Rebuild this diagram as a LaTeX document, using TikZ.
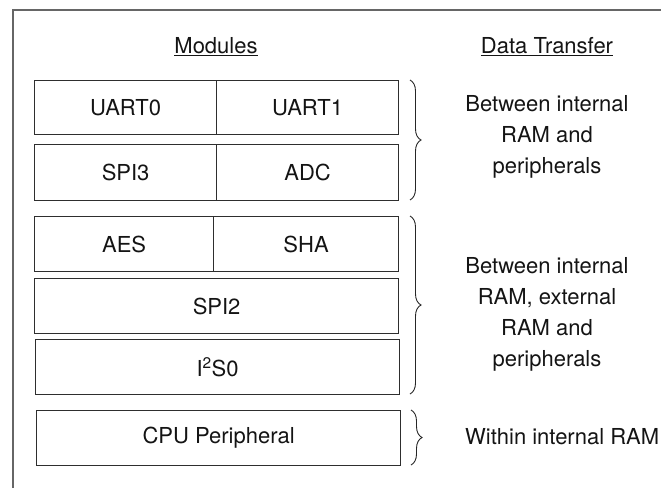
\documentclass[tikz,border=0pt]{standalone}
\usepackage{fontspec}
\setmainfont{TeX Gyre Heros}
\usetikzlibrary{decorations.pathreplacing}
\begin{document}
\begin{tikzpicture}[x=1pt,y=-1pt,
  txt/.style={font=\fontsize{22}{31}\selectfont, text=black!92, inner sep=0pt},
  cell/.style={draw=black!82, line width=1.2pt, inner sep=0pt, anchor=north west,
    font=\fontsize{22}{26}\selectfont, text=black!92},
  frame/.style={draw=black!60, line width=1.6pt},
  brc/.style={draw=black!85, line width=0.9pt, decorate,
    decoration={brace, amplitude=11pt}}]
\useasboundingbox (0,0) rectangle (661,488);
% outer frame (top and left edges visible)
\coordinate (fa) at (13,488);
\coordinate (fb) at (13,10);
\coordinate (fc) at (661,10);
\draw[frame] (fa) -- (fb) -- (fc);
% headings
\node[txt] (hmod) at (216,47) {\underline{Modules}};
\node[txt] (hdt) at (547,47) {\underline{Data Transfer}};
% boxes
\node[cell, minimum width=182pt, minimum height=54pt] (uart0) at (34,80) {UART0};
\node[cell, minimum width=182pt, minimum height=54pt] (uart1) at (216,80) {UART1};
\node[cell, minimum width=182pt, minimum height=56pt] (spi3) at (34,144) {SPI3};
\node[cell, minimum width=182pt, minimum height=56pt] (adc) at (216,144) {ADC};
\node[cell, minimum width=179pt, minimum height=55pt] (aes) at (34,216) {AES};
\node[cell, minimum width=185pt, minimum height=55pt] (sha) at (213,216) {SHA};
\node[cell, minimum width=364pt, minimum height=55pt] (spi2) at (34,278) {SPI2};
\node[cell, minimum width=364pt, minimum height=55pt] (i2s0) at (35,339) {I\textsuperscript{2}S0};
\node[cell, minimum width=364pt, minimum height=55pt] (cpu) at (36,410) {CPU Peripheral};
% braces
\coordinate (b1t) at (410,80);
\coordinate (b1b) at (410,200);
\coordinate (b2t) at (410,216);
\coordinate (b2b) at (410,394);
\coordinate (b3t) at (411,410);
\coordinate (b3b) at (411,465);
\draw[brc] (b1t) -- (b1b);
\draw[brc] (b2t) -- (b2b);
\draw[brc] (b3t) -- (b3b);
% descriptions
\node[txt, align=center] (d1) at (547,137) {Between internal\\RAM and\\peripherals};
\node[txt, align=center] (d2) at (547,314) {Between internal\\RAM, external\\RAM and\\peripherals};
\node[txt, anchor=west] (d3) at (465,437) {Within internal RAM};
\end{tikzpicture}
\end{document}
